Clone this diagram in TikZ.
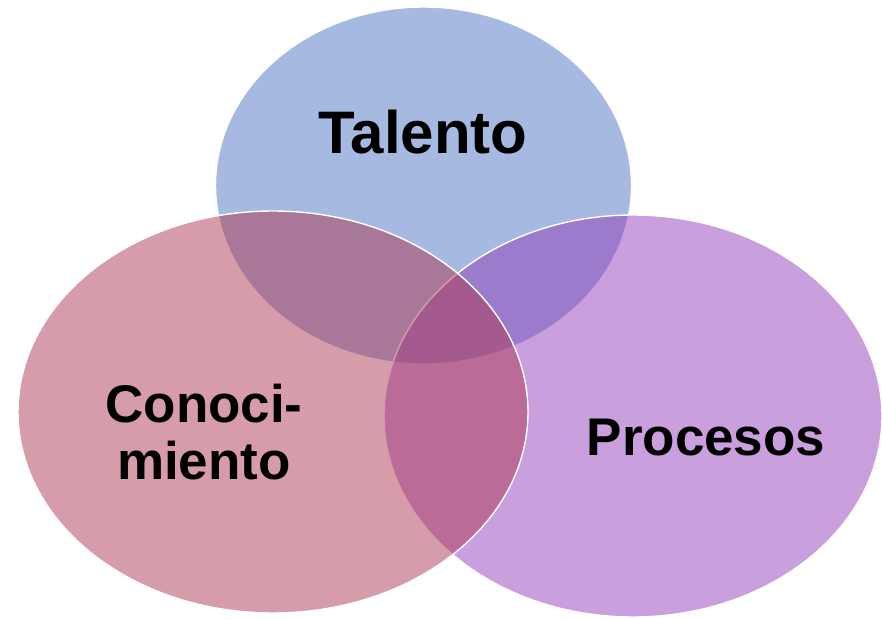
\documentclass[tikz,border=0pt]{standalone}
\usepackage{fontspec}
\setmainfont{Liberation Sans}
\usetikzlibrary{shapes.geometric}
\definecolor{cblue}{RGB}{77,115,195}
\definecolor{cpink}{RGB}{173,57,83}
\definecolor{cpurple}{RGB}{147,63,187}
\tikzset{
  venn/.style={ellipse, draw=white, line width=1.4pt, fill opacity=0.5, draw opacity=1, inner sep=0pt, outer sep=0pt},
  lbl/.style={text=black, font=\bfseries, inner sep=0pt}
}
\begin{document}
\begin{tikzpicture}[x=1pt,y=-1pt]
\useasboundingbox (0,0) rectangle (882,618);
\node (talento) [venn, fill=cblue, minimum width=416pt, minimum height=357pt] at (423.5,185.5) {};
\node (procesos) [venn, fill=cpurple, minimum width=498pt, minimum height=402pt] at (633,416) {};
\node (conoc) [venn, fill=cpink, minimum width=510pt, minimum height=402pt] at (273,412) {};
\node (tTal) [lbl, anchor=base, font=\bfseries\fontsize{60}{60}\selectfont] at (423,153) {Talento};
\node (tCon) [lbl, align=center, font=\bfseries\fontsize{53}{57}\selectfont] at (204,432.5) {Conoci-\\miento};
\node (tPro) [lbl, anchor=base, font=\bfseries\fontsize{53}{53}\selectfont] at (706,455) {Procesos};
\end{tikzpicture}
\end{document}
